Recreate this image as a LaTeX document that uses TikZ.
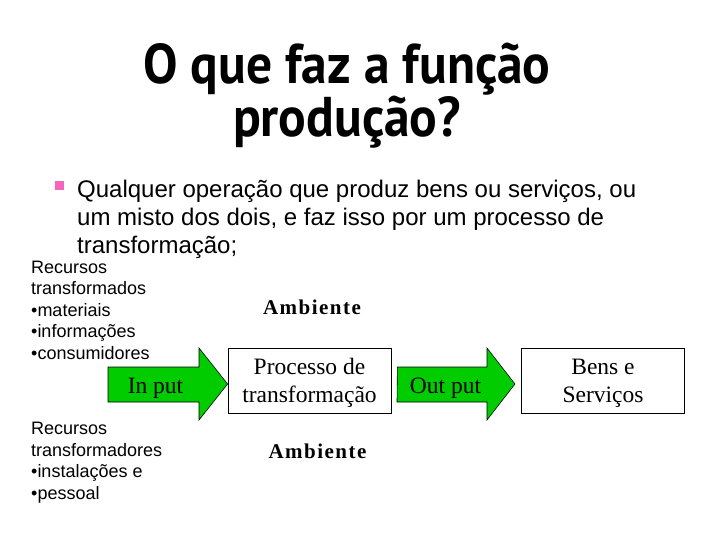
\documentclass[tikz,border=0pt]{standalone}
\usepackage{fontspec}
\setmainfont{Liberation Serif}
\setsansfont{Liberation Sans}
\newfontfamily\titlefont{PT Sans}[FakeStretch=0.92]
\newfontfamily\widefont{Liberation Serif}[LetterSpace=7]
\usepackage{xcolor}
\usetikzlibrary{positioning}
\definecolor{mypink}{RGB}{245, 100, 190}
\definecolor{mygreen}{RGB}{0, 204, 0}

\tikzset{
  box/.style={draw=black, line width=0.8pt, minimum width=163pt, minimum height=65pt,
    inner sep=0pt, text depth=0pt, align=center, font=\fontsize{23.5}{28}\selectfont},
  blockarrow/.style={draw=black, line width=0.6pt, fill=mygreen},
  arrowlabel/.style={anchor=base, inner sep=0pt, font=\fontsize{23.5}{28}\selectfont},
  ambient/.style={anchor=base, inner sep=0pt, font=\fontsize{21}{25}\widefont\bfseries},
  resource/.style={anchor=north west, inner sep=0pt, align=left,
    font=\fontsize{18}{21.5}\sffamily},
}

\begin{document}
\begin{tikzpicture}[x=1pt, y=-1pt]
\useasboundingbox (0,0) rectangle (720,540);

% title (base anchor sits on the last line)
\node[anchor=base, inner sep=0pt, align=center, font=\fontsize{56}{47}\titlefont\bfseries]
  (title) at (347,137) {O que faz a função\\produção?};

% bullet text
\fill[mypink] (55,181) rectangle (64,190);
\node[anchor=base west, inner sep=0pt, align=left, font=\fontsize{24}{28}\sffamily]
  (lead) at (77,253) {Qualquer operação que produz bens ou serviços, ou\\
  um misto dos dois, e faz isso por um processo de\\transformação;};

% resources
\node[resource] (rin) at (31,260.5) {Recursos\\transformados\\•materiais\\•informações\\•consumidores};
\node[resource] (rout) at (31,422) {Recursos\\transformadores\\•instalações e\\•pessoal};

% boxes
\node[box] (proc) at (309.5,380.5) {Processo de\\transformação};
\node[box] (bens) at (603,380.5) {Bens e\\Serviços};

\node[ambient] (amb1) at (312,314) {Ambiente};
\node[ambient] (amb2) at (317.5,458) {Ambiente};

% block arrows
\coordinate (tipin) at (proc.west |- 0,384);
\draw[blockarrow] (108,367) -- (199,367) -- (199,348) -- (tipin) -- (199,420) -- (199,402) -- (108,402) -- cycle;
\node[arrowlabel] (inlab) at (155.5,393) {In put};

\coordinate (tipout) at (515,384);
\draw[blockarrow] (proc.east |- 0,367) ++(6,0) -- (487,367) -- (487,348) -- (tipout) -- (487,420) -- (487,402) -- (397,402) -- cycle;
\node[arrowlabel] (outlab) at (445.5,393) {Out put};

\end{tikzpicture}
\end{document}
